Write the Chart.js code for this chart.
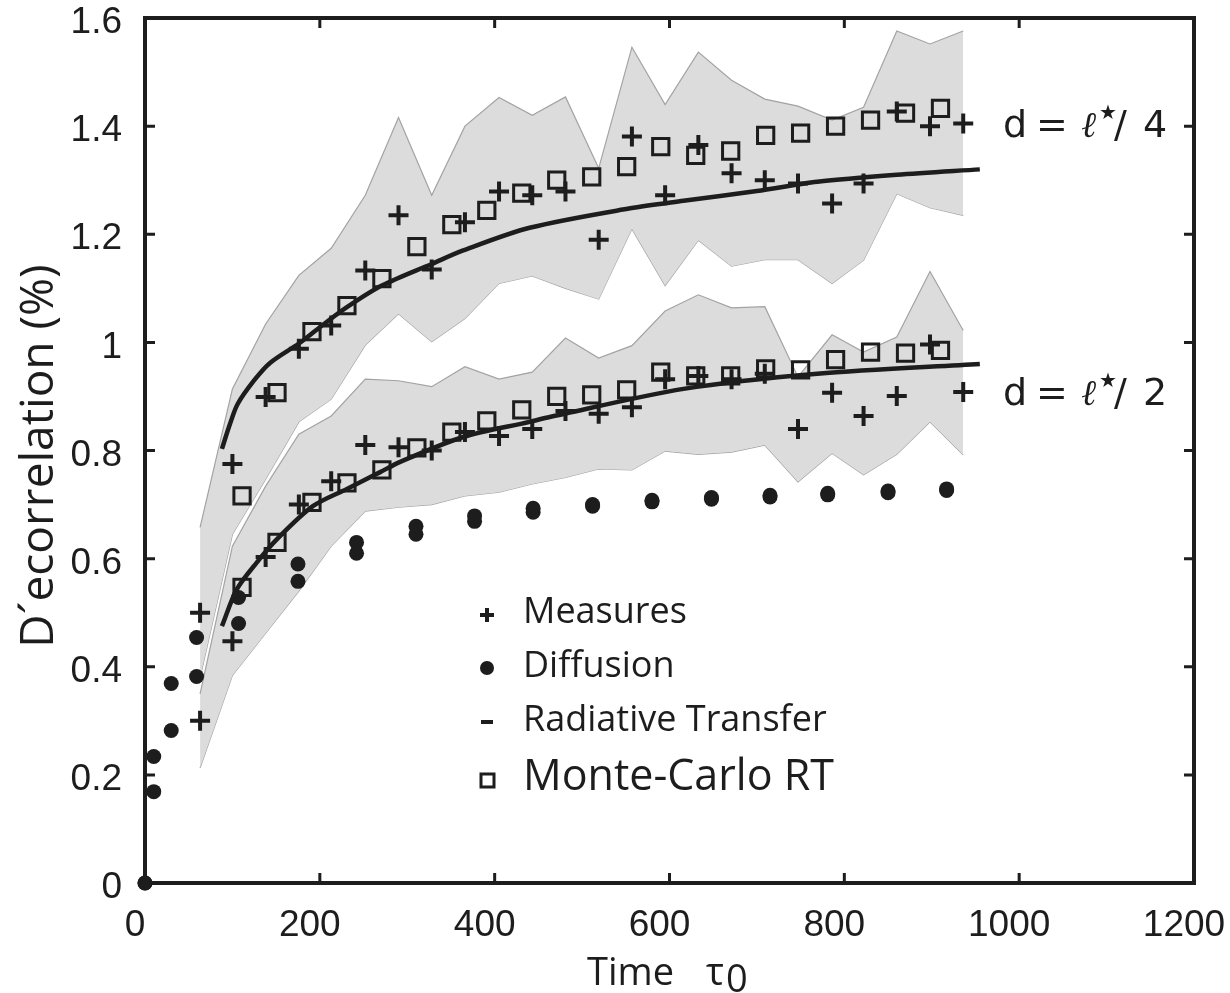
<!DOCTYPE html>
<html>
<head>
<meta charset="utf-8">
<title>Décorrélation vs temps</title>
<script src="https://cdn.jsdelivr.net/npm/chart.js@4.4.1/dist/chart.umd.min.js"></script>
<style>
  html, body { margin: 0; padding: 0; background: #fff; }
  #wrap { width: 1230px; height: 993px; }
</style>
</head>
<body>
<div id="wrap"><canvas id="decorrChart"></canvas></div>
<script>
// x values (time in tau0) of the measures and of the grey bands
const measureTimes = [63, 100, 138, 176, 213, 252, 290, 328, 366, 405, 443, 481,
                      519, 557, 595, 633, 671, 709, 747, 786, 822, 860, 898, 936];

// d = l*/4 (upper group)
const measuresQuarter = [0.50, 0.775, 0.899, 0.988, 1.031, 1.133, 1.235, 1.135, 1.222, 1.279, 1.272, 1.279,
                         1.19, 1.381, 1.272, 1.365, 1.313, 1.30, 1.294, 1.257, 1.294, 1.427, 1.40, 1.405];
const bandQuarterHigh = [0.658, 0.914, 1.034, 1.124, 1.174, 1.272, 1.416, 1.272, 1.40, 1.453, 1.42, 1.454,
                         1.322, 1.546, 1.44, 1.537, 1.485, 1.45, 1.437, 1.411, 1.435, 1.576, 1.552, 1.576];
const bandQuarterLow = [0.38, 0.645, 0.747, 0.853, 0.895, 0.995, 1.053, 1.001, 1.044, 1.109, 1.123, 1.10,
                        1.08, 1.21, 1.105, 1.189, 1.141, 1.153, 1.153, 1.109, 1.152, 1.275, 1.249, 1.235];

// d = l*/2 (lower group)
const measuresHalf = [0.30, 0.447, 0.603, 0.70, 0.743, 0.81, 0.806, 0.80, 0.834, 0.827, 0.84, 0.873,
                      0.868, 0.88, 0.932, 0.938, 0.932, 0.942, 0.84, 0.907, 0.864, 0.901, 0.996, 0.908];
const bandHalfHigh = [0.35, 0.623, 0.734, 0.83, 0.864, 0.932, 0.929, 0.918, 0.955, 0.932, 0.945, 1.008,
                      0.971, 0.994, 1.058, 1.088, 1.064, 1.066, 0.936, 1.014, 0.982, 1.01, 1.131, 1.022];
const bandHalfLow = [0.213, 0.384, 0.462, 0.54, 0.623, 0.688, 0.695, 0.70, 0.716, 0.723, 0.738, 0.75,
                     0.766, 0.764, 0.799, 0.793, 0.797, 0.81, 0.742, 0.795, 0.755, 0.793, 0.853, 0.792];

// Monte-Carlo RT
const mcTimes = [111, 151, 191, 231, 271, 311, 351, 391, 431, 471, 511, 551, 590, 630, 670, 710, 750, 790, 830, 870, 910];
const mcQuarter = [0.716, 0.907, 1.02, 1.068, 1.118, 1.177, 1.218, 1.244, 1.276, 1.30, 1.306, 1.325,
                   1.362, 1.346, 1.354, 1.383, 1.387, 1.40, 1.411, 1.424, 1.433];
const mcHalf = [0.547, 0.63, 0.704, 0.74, 0.764, 0.805, 0.834, 0.855, 0.875, 0.90, 0.903, 0.912,
                0.945, 0.938, 0.938, 0.951, 0.949, 0.968, 0.982, 0.98, 0.985];

// Diffusion
const diffTimes = [0, 10, 30, 59, 107, 175, 242, 310, 377, 444, 512, 580, 648, 715, 781, 850, 917];
const diffQuarter = [0, 0.234, 0.369, 0.454, 0.528, 0.59, 0.63, 0.66, 0.679, 0.693, 0.70, 0.708, 0.713, 0.717, 0.721, 0.725, 0.729];
const diffHalf = [0, 0.169, 0.282, 0.382, 0.48, 0.558, 0.61, 0.645, 0.669, 0.686, 0.697, 0.705, 0.71, 0.714, 0.718, 0.722, 0.726];

// Radiative transfer curves
const rtQuarterTimes = [88, 97, 106, 125, 143, 176, 200, 231, 271, 328, 364, 440, 555, 616, 700, 769, 860, 955];
const rtQuarterValues = [0.803, 0.848, 0.886, 0.93, 0.962, 0.998, 1.028, 1.065, 1.105, 1.145, 1.17, 1.212,
                         1.248, 1.262, 1.28, 1.297, 1.31, 1.32];
const rtHalfTimes = [88, 105, 128, 151, 192, 231, 269, 292, 364, 440, 463, 616, 769, 955];
const rtHalfValues = [0.475, 0.543, 0.593, 0.636, 0.697, 0.729, 0.76, 0.779, 0.825, 0.853, 0.862, 0.914, 0.942, 0.96];

// tick values
const xTicks = [0, 200, 400, 600, 800, 1000, 1200];
const yTicks = [0, 0.2, 0.4, 0.6, 0.8, 1, 1.2, 1.4, 1.6];

const ink = '#1d1d1d';
const bandFill = '#dcdcdc';
const bandEdge = '#a3a3a3';

function pts(xs, ys) {
    return xs.map((x, i) => ({ x: x, y: ys[i] }));
}

const markerSet = (label, data, style, radius, width) => ({
    label: label,
    data: data,
    type: 'scatter',
    pointStyle: style,
    pointRadius: radius,
    pointHoverRadius: radius,
    borderWidth: width,
    borderColor: ink,
    backgroundColor: style === 'circle' ? ink : 'rgba(0,0,0,0)',
    clip: false
});

const curveSet = (data) => ({
    type: 'line',
    data: data,
    borderColor: ink,
    borderWidth: 4.5,
    pointRadius: 0,
    tension: 0.3,
    fill: false
});

const bandSet = (data, fill) => ({
    type: 'line',
    data: data,
    borderColor: bandEdge,
    borderWidth: 1.2,
    backgroundColor: bandFill,
    pointRadius: 0,
    tension: 0,
    fill: fill
});

// frame, inward ticks, titles, legend and the d labels
const decorations = {
    id: 'decorations',
    afterDraw(chart) {
        const ctx = chart.ctx;
        const a = chart.chartArea;
        const xs = chart.scales.x;
        const ys = chart.scales.y;
        ctx.save();
        ctx.strokeStyle = ink;
        ctx.fillStyle = ink;

        // box
        ctx.lineWidth = 4;
        ctx.strokeRect(a.left, a.top, a.right - a.left, a.bottom - a.top);

        // inward ticks on all sides
        ctx.lineWidth = 3;
        ctx.beginPath();
        xTicks.slice(1, -1).forEach(v => {
            const px = xs.getPixelForValue(v);
            ctx.moveTo(px, a.bottom); ctx.lineTo(px, a.bottom - 10);
            ctx.moveTo(px, a.top); ctx.lineTo(px, a.top + 10);
        });
        yTicks.slice(1, -1).forEach(v => {
            const py = ys.getPixelForValue(v);
            ctx.moveTo(a.left, py); ctx.lineTo(a.left + 10, py);
            ctx.moveTo(a.right, py); ctx.lineTo(a.right - 10, py);
        });
        ctx.stroke();

        // axis titles
        ctx.textBaseline = 'alphabetic';
        ctx.font = '46px "Open Sans"';
        ctx.save();
        ctx.translate(53, 456);
        ctx.rotate(-Math.PI / 2);
        ctx.textAlign = 'center';
        ctx.fillText('D\u00b4ecorrelation (%)', 0, 0);
        ctx.restore();

        ctx.textAlign = 'left';
        ctx.font = '38px "Open Sans"';
        ctx.fillText('Time', 587, 985);
        ctx.fillText('\u03c4', 706, 985);
        ctx.fillText('0', 726, 992);

        // legend
        const lx = 487;
        ctx.lineWidth = 4;
        ctx.beginPath();
        ctx.moveTo(lx - 7, 615); ctx.lineTo(lx + 7, 615);
        ctx.moveTo(lx, 608); ctx.lineTo(lx, 622);
        ctx.moveTo(lx - 6, 722); ctx.lineTo(lx + 6, 722);
        ctx.stroke();
        ctx.beginPath();
        ctx.arc(lx, 668, 7, 0, Math.PI * 2);
        ctx.fill();
        ctx.lineWidth = 3;
        ctx.strokeRect(lx - 6, 774, 13, 13);

        ctx.textBaseline = 'middle';
        ctx.font = '36px "Open Sans"';
        ctx.fillText('Measures', 523, 613);
        ctx.fillText('Diffusion', 523, 667);
        ctx.fillText('Radiative Transfer', 523, 721);
        ctx.font = '43px "Open Sans"';
        ctx.fillText('Monte-Carlo RT', 523, 778);

        // d = l*/4 and d = l*/2
        [[137, '4'], [405, '2']].forEach(([base, n]) => {
            ctx.textBaseline = 'alphabetic';
            ctx.font = '38px "DejaVu Sans"';
            ctx.fillText('d', 1003, base);
            ctx.fillText('=', 1036, base);
            ctx.font = 'italic 36px "DejaVu Serif"';
            ctx.fillText('\u2113', 1081, base);
            ctx.font = '20px "DejaVu Sans"';
            ctx.fillText('\u2605', 1099, base - 18);
            ctx.font = '38px "DejaVu Sans"';
            ctx.fillText('/', 1114, base);
            ctx.fillText(n, 1143, base);
        });

        ctx.restore();
    }
};

const tickFont = { family: '"Liberation Sans", Arial, sans-serif', size: 37 };

new Chart(document.getElementById('decorrChart'), {
    type: 'scatter',
    data: {
        datasets: [
            markerSet('Measures', pts(measureTimes, measuresQuarter), 'cross', 10, 4),
            markerSet('Measures', pts(measureTimes, measuresHalf), 'cross', 10, 4),
            markerSet('Monte-Carlo RT', pts(mcTimes, mcQuarter), 'rect', 11.5, 3),
            markerSet('Monte-Carlo RT', pts(mcTimes, mcHalf), 'rect', 11.5, 3),
            markerSet('Diffusion', pts(diffTimes, diffQuarter), 'circle', 7.5, 0),
            markerSet('Diffusion', pts(diffTimes, diffHalf), 'circle', 7.5, 0),
            curveSet(pts(rtQuarterTimes, rtQuarterValues)),
            curveSet(pts(rtHalfTimes, rtHalfValues)),
            bandSet(pts(measureTimes, bandQuarterHigh), 9),   // filled down to index 9
            bandSet(pts(measureTimes, bandQuarterLow), false),
            bandSet(pts(measureTimes, bandHalfHigh), 11),     // filled down to index 11
            bandSet(pts(measureTimes, bandHalfLow), false)
        ]
    },
    options: {
        responsive: true,
        maintainAspectRatio: false,
        animation: false,
        layout: { padding: { top: 18, right: 36, left: 0, bottom: 0 } },
        plugins: {
            legend: { display: false },
            tooltip: { enabled: false }
        },
        scales: {
            x: {
                type: 'linear',
                min: 0,
                max: 1200,
                afterBuildTicks: s => { s.ticks = xTicks.map(v => ({ value: v })); },
                afterFit: s => { s.height = 110; s.paddingLeft = 0; s.paddingRight = 0; },
                ticks: { font: tickFont, color: ink, padding: 13, labelOffset: -10, maxRotation: 0, callback: v => String(v) },
                grid: { display: false },
                border: { display: false }
            },
            y: {
                min: 0,
                max: 1.6,
                afterBuildTicks: s => { s.ticks = yTicks.map(v => ({ value: v })); },
                afterFit: s => { s.width = 145; s.paddingTop = 0; s.paddingBottom = 0; },
                ticks: { font: tickFont, color: ink, padding: 15, labelOffset: 5, callback: v => String(v) },
                grid: { display: false },
                border: { display: false }
            }
        }
    },
    plugins: [decorations]
});
</script>
</body>
</html>
